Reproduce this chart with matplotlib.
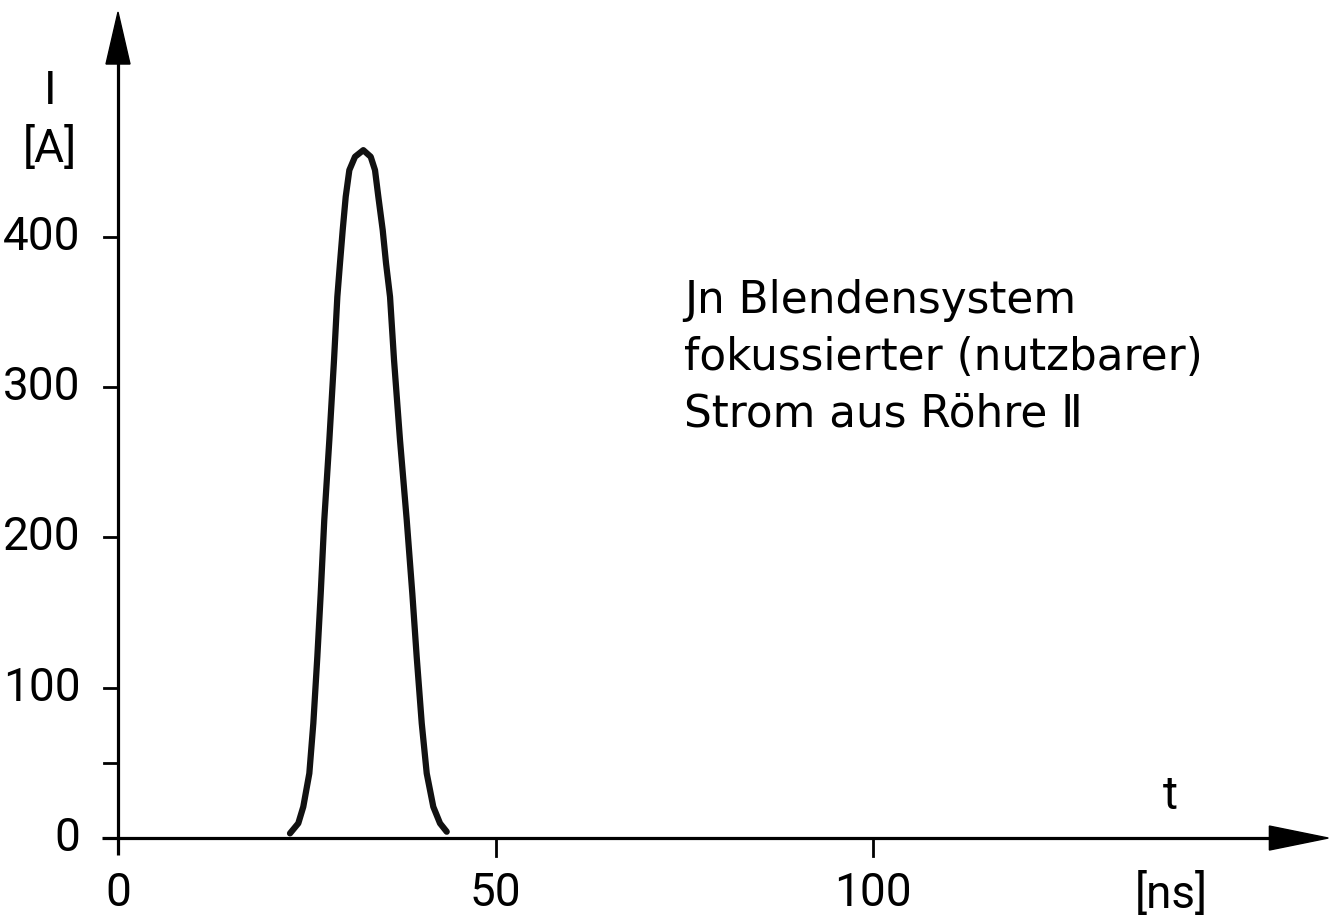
import numpy as np
import matplotlib
matplotlib.use("Agg")
import matplotlib.pyplot as plt
from matplotlib.patches import Polygon

# pulse: time [ns], current [A]
t_ns = [22.78, 23.88, 24.54, 25.34, 25.87, 26.40, 26.85, 27.32, 27.99, 28.61,
        29.05, 29.40, 29.76, 30.16, 30.64, 31.39, 32.49,
        33.47, 34.04, 34.48, 35.06, 35.50, 36.03, 36.56, 37.35, 38.24,
        38.98, 39.56, 40.23, 40.89, 41.76, 42.65, 43.54]
i_amp = [3.1, 9.8, 20.8, 43.0, 76.3, 120.6, 162.8, 211.6, 264.8, 318.0,
         360.1, 382.4, 404.5, 426.7, 444.4, 453.3, 457.7,
         453.3, 444.4, 426.7, 404.5, 382.4, 360.1, 318.0, 264.8, 211.6,
         162.8, 120.6, 76.3, 43.0, 20.8, 9.8, 4.2]

x_ticks = [0, 50, 100]
y_ticks = [0, 100, 200, 300, 400]
y_minor = [50]
note = "Jn Blendensystem\nfokussierter (nutzbarer)\nStrom aus Röhre Ⅱ"

num_font = ['Roboto', 'DejaVu Sans']
txt_font = ['DejaVu Sans']

fig = plt.figure(figsize=(13.43, 9.21), dpi=100)
ax = fig.add_axes([0, 0, 1, 1])
ax.set_xlim(-15.63, 162.25)
ax.set_ylim(-55.2, 557.6)
ax.axis('off')

sx = 7.55   # px per ns
sy = 1.503  # px per A

# axes with arrow heads
ax.plot([-2.1, 153], [0, 0], color='black', lw=2.3, solid_capstyle='butt')
ax.plot([0, 0], [-11.5, 518], color='black', lw=2.3, solid_capstyle='butt')
ax.add_patch(Polygon([[152.5, 12 / sy], [160.3, 0], [152.5, -12 / sy]],
                     closed=True, color='black'))
ax.add_patch(Polygon([[-12 / sx, 515], [0, 549.6], [12 / sx, 515]],
                     closed=True, color='black'))

# ticks
for x in x_ticks[1:]:
    ax.plot([x, x], [0, -12], color='black', lw=2.0)
for y in y_ticks[1:] + y_minor:
    ax.plot([0, -1.8], [y, y], color='black', lw=2.0)

for x in x_ticks:
    ax.text(x, -22, str(x), ha='center', va='top', fontsize=33,
            family=num_font)
for y in y_ticks:
    ax.text(-5, y, str(y), ha='right', va='center', fontsize=33,
            family=num_font)

ax.text(-9, 497, "I", ha='center', va='center', fontsize=33, family=num_font)
ax.text(-9, 459, "[A]", ha='center', va='center', fontsize=33,
        family=num_font)
ax.text(139.4, 28, "t", ha='center', va='center', fontsize=33,
        family=num_font)
ax.text(139.5, -37.5, "[ns]", ha='center', va='center', fontsize=33,
        family=num_font)

ax.text(75, 372, note, ha='left', va='top', fontsize=31.5, family=txt_font,
        linespacing=1.4)

ax.plot(t_ns, i_amp, color='#111111', lw=4.5, solid_capstyle='round',
        solid_joinstyle='round')

fig.savefig('out.png', dpi=100, facecolor='white')
